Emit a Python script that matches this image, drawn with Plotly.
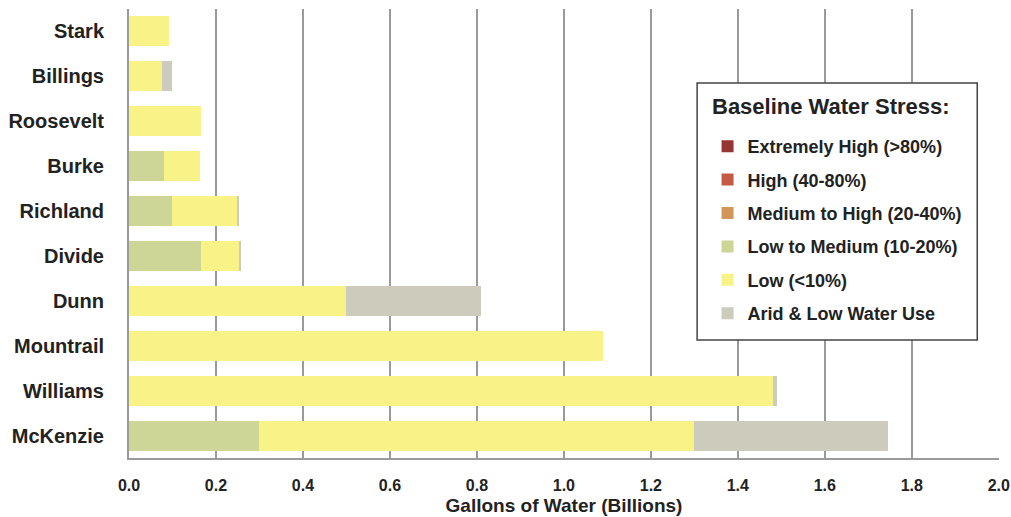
import plotly.graph_objects as go

counties = ["Stark", "Billings", "Roosevelt", "Burke", "Richland", "Divide",
            "Dunn", "Mountrail", "Williams", "McKenzie"]

extremely_high = [0, 0, 0, 0, 0, 0, 0, 0, 0, 0]
high = [0, 0, 0, 0, 0, 0, 0, 0, 0, 0]
medium_high = [0, 0, 0, 0, 0, 0, 0, 0, 0, 0]
low_medium = [0, 0, 0, 0.08, 0.10, 0.165, 0, 0, 0, 0.30]
low = [0.092, 0.075, 0.165, 0.083, 0.15, 0.087, 0.50, 1.09, 1.48, 1.00]
arid = [0, 0.025, 0, 0, 0.003, 0.006, 0.31, 0, 0.01, 0.445]

x_ticks = [0, 0.2, 0.4, 0.6, 0.8, 1.0, 1.2, 1.4, 1.6, 1.8, 2.0]

series = [
    ("Extremely High (>80%)", extremely_high, "#963634"),
    ("High (40-80%)", high, "#C55A44"),
    ("Medium to High (20-40%)", medium_high, "#D3955A"),
    ("Low to Medium (10-20%)", low_medium, "#CED697"),
    ("Low (<10%)", low, "#F9F287"),
    ("Arid & Low Water Use", arid, "#CDCBBB"),
]

FONT = "Liberation Sans, Arial, sans-serif"
TXT = "#222222"

fig = go.Figure()
for i, (name, vals, color) in enumerate(series):
    fig.add_trace(go.Bar(
        y=counties, x=vals, name=f"<b>{name}</b>", orientation="h",
        marker=dict(color=color, line=dict(width=0)),
        legendgroup=f"g{i}",
    ))

# legend box (drawn as a shape so the title spacing can match)
fig.add_shape(type="rect", xref="paper", yref="paper",
              x0=0.653, x1=0.975, y0=0.263, y1=0.835,
              fillcolor="white", line=dict(color="#444444", width=1.5),
              layer="above")
fig.add_annotation(xref="paper", yref="paper", x=0.668, y=0.782,
                   xanchor="left", yanchor="middle", showarrow=False,
                   text="<b>Baseline Water Stress:</b>",
                   font=dict(size=22, family=FONT, color=TXT))

fig.update_layout(
    width=1011, height=517,
    barmode="stack", bargap=0.33,
    plot_bgcolor="white", paper_bgcolor="white",
    margin=dict(l=129, r=12, t=9, b=59, autoexpand=False),
    font=dict(family=FONT, color=TXT),
    legend=dict(
        x=0.665, y=0.735, xanchor="left", yanchor="top",
        bgcolor="rgba(0,0,0,0)", borderwidth=0,
        font=dict(size=18, family=FONT, color=TXT),
        traceorder="grouped", tracegroupgap=7,
        itemwidth=30,
    ),
    xaxis=dict(
        range=[0, 2.0005], tickvals=x_ticks,
        ticktext=[f"<b>{v:.1f}</b>" for v in x_ticks],
        ticklabeloverflow="allow",
        showgrid=True, gridcolor="#9a9a9a", gridwidth=1.5,
        showline=True, linecolor="#9a9a9a", linewidth=2,
        zeroline=False,
        ticks="outside", ticklen=12, tickcolor="rgba(0,0,0,0)",
        tickfont=dict(size=16, family=FONT, color=TXT),
        title=dict(text="<b>Gallons of Water (Billions)</b>",
                   font=dict(size=19, family=FONT, color=TXT), standoff=5),
        automargin=False,
        fixedrange=True,
    ),
    yaxis=dict(
        autorange="reversed",
        showline=True, linecolor="#9a9a9a", linewidth=2,
        showgrid=False,
        ticks="outside", ticklen=19, tickcolor="rgba(0,0,0,0)",
        tickfont=dict(size=20, family=FONT, color=TXT),
        tickvals=counties,
        ticktext=[f"<b>{c}</b>" for c in counties],
        automargin=False,
        fixedrange=True,
    ),
)

fig.write_html(
    "out.html",
    config={"displayModeBar": False},
    post_script="document.body.style.margin='0';document.body.style.overflow='hidden';",
)
